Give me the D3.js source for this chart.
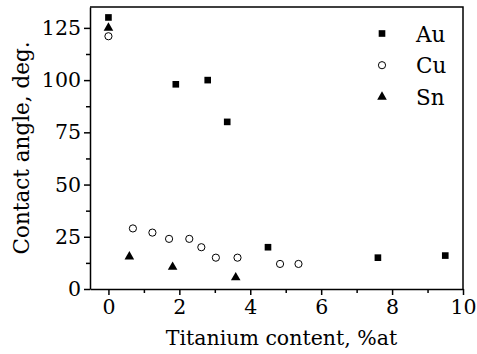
<!DOCTYPE html>
<html>
<head>
<meta charset="utf-8">
<script src="https://cdn.jsdelivr.net/npm/d3@7"></script>
<style>
  body { margin: 0; background: #fff; }
</style>
</head>
<body>
<div id="chart"></div>
<script>
// values
const auX = [0, 1.9, 2.8, 3.35, 4.5, 7.6, 9.5];
const auY = [130, 98, 100, 80, 20, 15, 16];
const cuX = [0, 0.69, 1.24, 1.71, 2.28, 2.62, 3.03, 3.64, 4.84, 5.36];
const cuY = [121, 29, 27, 24, 24, 20, 15, 15, 12, 12];
const snX = [0, 0.59, 1.81, 3.59];
const snY = [125, 15.5, 10.5, 5.5];
const xTicks = [0, 2, 4, 6, 8, 10];
const yTicks = [0, 25, 50, 75, 100, 125];
const seriesNames = ["Au", "Cu", "Sn"];

const FONT = "'DejaVu Serif', serif";
const width = 477, height = 354;
const margin = { top: 7, right: 14, bottom: 65, left: 90 };

const svg = d3.select("#chart").append("svg")
    .attr("width", width)
    .attr("height", height);

const x = d3.scaleLinear().domain([-0.52, 10]).range([margin.left, width - margin.right]);
const y = d3.scaleLinear().domain([0, 135]).range([height - margin.bottom, margin.top]);

// minor ticks
svg.append("g")
    .attr("transform", `translate(0,${y(0)})`)
    .call(d3.axisBottom(x).tickValues(d3.range(1, 10, 2)).tickSize(4).tickFormat(""))
    .call(g => g.select(".domain").remove());
svg.append("g")
    .attr("transform", `translate(${x.range()[0]},0)`)
    .call(d3.axisLeft(y).tickValues([12.5, 37.5, 62.5, 87.5, 112.5]).tickSize(4).tickFormat(""))
    .call(g => g.select(".domain").remove());

// major axes
const xAxis = svg.append("g")
    .attr("transform", `translate(0,${y(0)})`)
    .call(d3.axisBottom(x).tickValues(xTicks).tickSize(6).tickSizeOuter(0).tickPadding(4));
xAxis.attr("font-family", FONT).attr("font-size", 20.5);

const yAxis = svg.append("g")
    .attr("transform", `translate(${x.range()[0]},0)`)
    .call(d3.axisLeft(y).tickValues(yTicks).tickSize(6).tickSizeOuter(0).tickPadding(3));
yAxis.attr("font-family", FONT).attr("font-size", 20.5);

svg.selectAll(".domain, .tick line").attr("stroke", "#000").attr("stroke-width", 1.5);

// frame top and right
svg.append("path")
    .attr("d", `M${x.range()[0]},${y(135)}H${x(10)}V${y(0)}`)
    .attr("fill", "none").attr("stroke", "#000").attr("stroke-width", 1.5);

// axis titles
svg.append("text")
    .attr("x", (x.range()[0] + x(10)) / 2 + 5)
    .attr("y", 345)
    .attr("text-anchor", "middle")
    .attr("font-family", FONT)
    .attr("font-size", 20.5)
    .text("Titanium content, %at");
svg.append("text")
    .attr("transform", `translate(29,${(y(0) + y(135)) / 2}) rotate(-90)`)
    .attr("text-anchor", "middle")
    .attr("font-family", FONT)
    .attr("font-size", 21.5)
    .text("Contact angle, deg.");

// markers
const sq = d3.symbol().type(d3.symbolSquare).size(44);
const tri = d3.symbol().type(d3.symbolTriangle).size(40);

svg.append("g").selectAll("path")
    .data(auX.map((d, i) => [d, auY[i]]))
    .join("path")
    .attr("d", sq)
    .attr("transform", d => `translate(${x(d[0])},${y(d[1])})`)
    .attr("fill", "#000");

svg.append("g").selectAll("circle")
    .data(cuX.map((d, i) => [d, cuY[i]]))
    .join("circle")
    .attr("cx", d => x(d[0]))
    .attr("cy", d => y(d[1]))
    .attr("r", 3.6)
    .attr("fill", "none")
    .attr("stroke", "#000")
    .attr("stroke-width", 1);

svg.append("g").selectAll("path")
    .data(snX.map((d, i) => [d, snY[i]]))
    .join("path")
    .attr("d", tri)
    .attr("transform", d => `translate(${x(d[0])},${y(d[1])})`)
    .attr("fill", "#000");

// legend
const legend = svg.append("g");
seriesNames.forEach((name, i) => {
    const ly = 33.5 + i * 31.7;
    if (i === 0) {
        legend.append("path").attr("d", sq).attr("transform", `translate(382,${ly})`).attr("fill", "#000");
    } else if (i === 1) {
        legend.append("circle").attr("cx", 382).attr("cy", ly).attr("r", 3.6)
            .attr("fill", "none").attr("stroke", "#000").attr("stroke-width", 1);
    } else {
        legend.append("path").attr("d", tri).attr("transform", `translate(382,${ly})`).attr("fill", "#000");
    }
    legend.append("text")
        .attr("x", 416)
        .attr("y", ly + 8)
        .attr("font-family", FONT)
        .attr("font-size", 21.5)
        .text(name);
});
</script>
</body>
</html>
